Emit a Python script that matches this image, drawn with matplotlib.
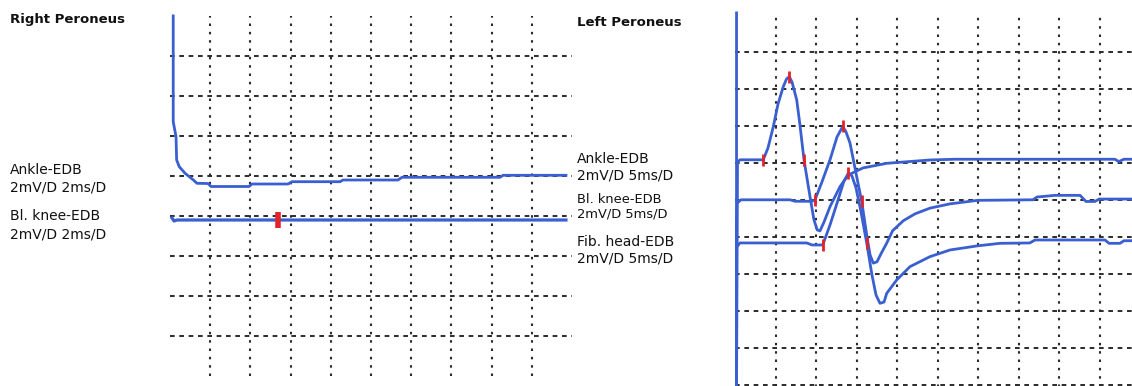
import numpy as np
import matplotlib
matplotlib.use("Agg")
import matplotlib.pyplot as plt

# ---------------- data ----------------
# Right Peroneus (2 mV/D, 2 ms/D); time in ms, amplitude in mV relative to trace baseline
r_ankle_t = [0.16, 0.16, 0.30, 0.33, 0.46, 0.75, 1.16, 1.34, 1.89, 2.04, 3.93, 4.08, 5.87, 6.07,
             8.46, 8.61, 11.34, 11.54, 16.42, 16.57, 19.70]
r_ankle_v = [8.53, 3.24, 2.49, 1.33, 0.99, 0.66, 0.33, 0.16, 0.15, 0.0, 0.0, 0.125, 0.125, 0.24,
             0.24, 0.325, 0.325, 0.46, 0.46, 0.56, 0.56]
r_knee_t = [0.10, 0.20, 0.35, 19.70]
r_knee_v = [0.10, -0.05, 0.0, 0.0]
r_knee_marks = [5.37]

# Left Peroneus (2 mV/D, 5 ms/D)
l_ankle_t = [0.19, 0.19, 0.31, 0.62, 3.49, 4.07, 4.73, 5.31, 5.96, 6.36, 6.70, 7.04, 7.62, 8.02,
             8.52, 9.26, 9.75, 10.16, 10.49, 10.99, 11.73, 12.96, 13.99, 15.80, 18.73, 24.07,
             27.16, 46.9, 47.4, 48.0, 50.0]
l_ankle_v = [7.93, -12.2, -0.12, 0.0, 0.0, 0.64, 1.79, 3.01, 3.95, 4.36, 4.49, 4.20, 3.23, 1.88,
             -0.01, -1.99, -3.25, -3.79, -3.84, -3.36, -2.53, -1.45, -0.82, -0.44, -0.19, -0.01,
             0.03, 0.03, -0.10, 0.03, 0.03]
l_ankle_marks = [3.49, 6.70, 8.52]

l_knee_t = [0.31, 0.74, 6.79, 7.41, 9.51, 9.88, 10.74, 11.73, 12.59, 13.30, 13.70, 14.20, 15.02,
            15.64, 16.26, 16.67, 17.07, 17.53, 18.02, 18.73, 19.46, 20.78, 22.22, 24.07, 26.54,
            29.94, 36.79, 37.28, 39.5, 42.6, 43.33, 44.44, 44.94, 50.0]
l_knee_v = [-0.16, 0.0, 0.0, -0.08, -0.08, 0.0, 0.97, 2.16, 3.39, 3.96, 3.67, 3.06, 1.26,
            -0.09, -1.89, -2.97, -3.42, -3.35, -2.92, -2.34, -1.67, -1.13, -0.76, -0.45, -0.22,
            -0.03, 0.0, 0.15, 0.24, 0.24, -0.09, -0.09, 0.04, 0.04]
l_knee_marks = [9.88, 13.30, 15.64]

l_fib_t = [0.31, 0.62, 8.85, 9.51, 10.83, 11.73, 12.72, 13.46, 13.99, 14.44, 14.94, 15.56, 16.26,
           16.91, 17.41, 17.90, 18.40, 18.73, 19.96, 21.60, 24.07, 26.54, 29.88, 32.72, 36.4,
           37.04, 45.68, 46.17, 47.53, 48.02, 50.0]
l_fib_v = [-0.16, 0.0, 0.0, -0.11, -0.11, 0.97, 2.32, 3.35, 3.76, 3.62, 2.97, 1.67, 0.0,
           -1.73, -2.81, -3.26, -3.19, -2.72, -2.0, -1.28, -0.74, -0.38, -0.16, -0.02, 0.0,
           0.16, 0.16, -0.02, -0.02, 0.12, 0.12]
l_fib_marks = [10.83, 13.99, 16.26]

left_labels = [("Ankle-EDB", "2mV/D 2ms/D"), ("Bl. knee-EDB", "2mV/D 2ms/D")]
right_labels = [("Ankle-EDB", "2mV/D 5ms/D"), ("Bl. knee-EDB", "2mV/D 5ms/D"),
                ("Fib. head-EDB", "2mV/D 5ms/D")]

# ---------------- layout / style ----------------
W, H = 1132, 386
TRACE = "#3a5fd0"
MARK = "#e3222b"
GRID = "#2b2b2b"

fig = plt.figure(figsize=(W / 100, H / 100), dpi=100)
fig.patch.set_facecolor("white")


def px_axes(x0, y0, x1, y1):
    return fig.add_axes([x0 / W, 1 - y1 / H, (x1 - x0) / W, (y1 - y0) / H])


def style(ax, xt, yt):
    ax.set_xticks(xt)
    ax.set_yticks(yt)
    ax.tick_params(length=0, labelbottom=False, labelleft=False)
    for s in ax.spines.values():
        s.set_visible(False)
    ax.xaxis.grid(True, color=GRID, linestyle=(0, (1.2, 2.8)), linewidth=1.5)
    ax.yaxis.grid(True, color=GRID, linestyle=(0, (2.4, 2.4)), linewidth=1.4)
    ax.set_axisbelow(True)
    ax.patch.set_alpha(0)


# left panel: 10 x 2 ms, 9 x 2 mV
axL = px_axes(170, 16, 572, 376)
axL.set_xlim(0, 20)
axL.set_ylim(0, 18)
style(axL, np.arange(2, 20, 2), np.arange(2, 18, 2))
offL = [9.475, 7.8]
axL.plot(r_ankle_t, np.array(r_ankle_v) + offL[0], color=TRACE, lw=2.0, clip_on=False)
axL.plot(r_knee_t, np.array(r_knee_v) + offL[1], color=TRACE, lw=2.3)
axL.plot(r_knee_marks, np.interp(r_knee_marks, r_knee_t, r_knee_v) + offL[1], ls="none",
         marker="|", ms=12, mew=4, color=MARK)

# right panel: 10 x 5 ms, 10 x 2 mV (cropped at figure edges)
axR = px_axes(735, 14.6, 1140, 392.4)
axR.set_xlim(0, 50)
axR.set_ylim(-0.4, 20)
style(axR, np.arange(5, 55, 5), np.arange(0, 20, 2))
offR = [12.16, 10.0, 7.67]
for (t, v, m), off in zip([(l_ankle_t, l_ankle_v, l_ankle_marks),
                           (l_knee_t, l_knee_v, l_knee_marks),
                           (l_fib_t, l_fib_v, l_fib_marks)], offR):
    axR.plot(t, np.array(v) + off, color=TRACE, lw=2.0, clip_on=False)
    axR.plot(m, np.interp(m, t, v) + off, ls="none", marker="|", ms=9, mew=2, color=MARK,
             zorder=5)


# ---------------- texts ----------------
def ftext(x, y, s, size=10, **kw):
    fig.text(x / W, 1 - y / H, s, va="center", ha="left", color="#111111",
             family="DejaVu Sans", fontsize=size, **kw)


ftext(10, 20, "Right Peroneus", size=9.5, fontweight="bold")
ftext(577, 23, "Left Peroneus", size=9.5, fontweight="bold")

for (a, b), (y1, y2) in zip(left_labels, [(170, 188), (216.5, 234)]):
    ftext(10, y1, a)
    ftext(10, y2, b)

for (a, b), (y1, y2), fs in zip(right_labels, [(159, 175), (200, 214), (242, 258)],
                                [10, 9.4, 10]):
    ftext(577, y1, a, size=fs)
    ftext(577, y2, b, size=fs)

fig.savefig("out.png", dpi=100)
